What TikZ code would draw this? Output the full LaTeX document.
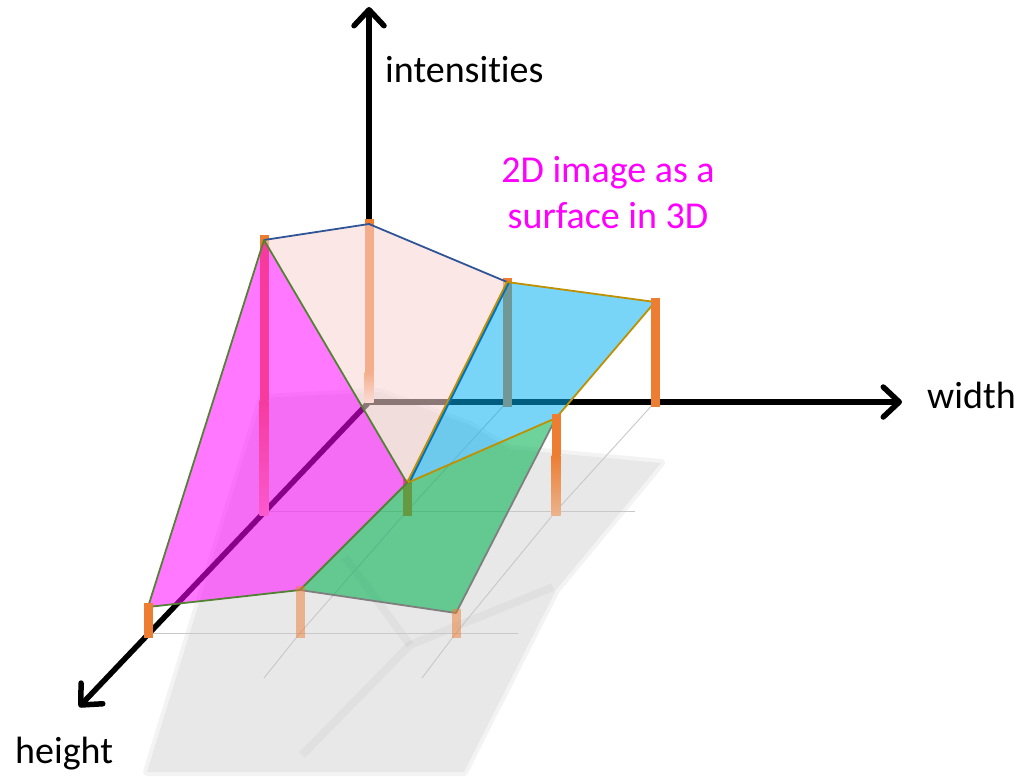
\documentclass[tikz,border=0pt]{standalone}
\usepackage{fontspec}
\setmainfont{Carlito}[Ligatures=NoCommon]
\usetikzlibrary{arrows.meta}
\definecolor{pillarorange}{HTML}{ED7D31}
\definecolor{pinksurf}{HTML}{FAD5D5}
\definecolor{magentasurf}{HTML}{FF00FF}
\definecolor{cyansurf}{HTML}{00B0F0}
\definecolor{greensurf}{HTML}{00B050}
\definecolor{edgeblue}{HTML}{2F5597}
\definecolor{edgegreen}{HTML}{548235}
\definecolor{edgegold}{HTML}{BF9000}
\definecolor{edgegray}{HTML}{7F7F7F}
\definecolor{lineblue}{HTML}{0070C0}
\definecolor{gridgray}{HTML}{C8C8C8}
\definecolor{shadowgray}{HTML}{E8E8E8}

\begin{document}
\begin{tikzpicture}[x=1pt,y=-1pt,
  axis/.style={line width=5.5pt,-{Straight Barb[length=16pt,width=30pt,round]}},
  pillar/.style={line width=9pt,line cap=rect,pillarorange},
  gridline/.style={gridgray,line width=0.9pt},
  surf/.style={line width=1.8pt,line join=round},
  lbl/.style={inner sep=0pt,font=\fontsize{38}{46}\selectfont}]
  \useasboundingbox (0,0) rectangle (1032,776);
  % Gitter: Fusspunkte und Oberflaeche
  \coordinate (b11) at (369,402); \coordinate (b12) at (507,402); \coordinate (b13) at (655,402);
  \coordinate (b21) at (264,511); \coordinate (b22) at (407,511); \coordinate (b23) at (556,511);
  \coordinate (b31) at (148,633); \coordinate (b32) at (300,633); \coordinate (b33) at (456,633);
  \coordinate (s11) at (369,224); \coordinate (s12) at (507,282); \coordinate (s13) at (655,302);
  \coordinate (s21) at (264,240); \coordinate (s22) at (407,483); \coordinate (s23) at (556,418);
  \coordinate (s31) at (148,607); \coordinate (s32) at (300,590); \coordinate (s33) at (456,613);
  \coordinate (itip) at (369,7); \coordinate (wtip) at (902,402); \coordinate (htip) at (79,707);
  % Schatten
  \filldraw[shadowgray,line width=8pt,line join=round,draw opacity=0.5]
    (147,772) -- (262,398) -- (380,392) -- (470,425) -- (510,449) -- (661,463)
    -- (556,590) -- (464,772) -- cycle;
  \draw[black,opacity=0.03,line width=8pt,line join=round]
    (302,755) -- (410,645) -- (553,587);
  \draw[black,opacity=0.03,line width=8pt,line join=round]
    (345,557) -- (410,645);
  % Rasterlinien
  \draw[gridline] (b21) -- (635,511);
  \draw[gridline] (b31) -- (518,633);
  \draw[gridline] (b12) -- (b22) -- (b32) -- (264,678);
  \draw[gridline] (b13) -- (b23) -- (b33) -- (422,678);
  % Achsen
  \draw[axis] (b11) -- (itip);
  \draw[axis] (b11) -- (wtip);
  \draw[axis] (b11) -- (htip);
  % Saeulen hinter der Flaeche
  \fill[pillarorange] (364.5,219) rectangle (373.5,372);
  \shade[top color=pillarorange,bottom color=pillarorange!20!white] (364.5,372) rectangle (373.5,402);
  \draw[pillar] (b12) -- (s12);
  \fill[pillarorange] (259.5,235) rectangle (268.5,400);
  \shade[top color=pillarorange,bottom color=pillarorange!50!white] (259.5,400) rectangle (268.5,515);
  \draw[pillar] (b22) -- (s22);
  % Flaechen
  \fill[pinksurf,opacity=0.56] (s21) -- (s11) -- (s12) -- (s22) -- cycle;
  \fill[magentasurf,opacity=0.53] (s21) -- (s22) -- (s32) -- (s31) -- cycle;
  \fill[cyansurf,opacity=0.53] (s12) -- (s13) -- (s23) -- (s22) -- cycle;
  \fill[greensurf,opacity=0.57] (s22) -- (s23) -- (s33) -- (s32) -- cycle;
  % Kanten
  \draw[surf,edgeblue] (s21) -- (s11) -- (s12);
  \draw[surf,lineblue,line width=3pt] ([xshift=1.5pt]s22) -- ([xshift=1.5pt]s12);
  \draw[surf,edgegold] (s22) -- (s12) -- (s13) -- (s23) -- cycle;
  \draw[surf,edgegray] (s23) -- (s33) -- (s32);
  \draw[surf,edgegreen] (s21) -- (s31) -- (s32) -- (s22) -- cycle;
  % Saeulen vor der Flaeche
  \draw[pillar] (b13) -- (s13);
  \fill[pillarorange] (551.5,414) rectangle (560.5,455);
  \shade[top color=pillarorange,bottom color=pillarorange!50!shadowgray] (551.5,455) rectangle (560.5,515);
  \draw[pillar] (b31) -- (s31);
  \draw[pillar,opacity=0.5] (b32) -- (s32);
  \draw[pillar,opacity=0.5] (b33) -- (s33);
  % Beschriftung
  \node[lbl,anchor=base west] (intlab) at (385,82) {intensit\kern0pt ies};
  \node[lbl,anchor=base west] (widlab) at (927,408) {width};
  \node[lbl,anchor=base west] (heilab) at (15,763) {height};
  \node[lbl,anchor=base,text=magentasurf] (note1) at (608,182) {2D image as a};
  \node[lbl,anchor=base,text=magentasurf] (note2) at (608,228) {surface in 3D};
\end{tikzpicture}
\end{document}
